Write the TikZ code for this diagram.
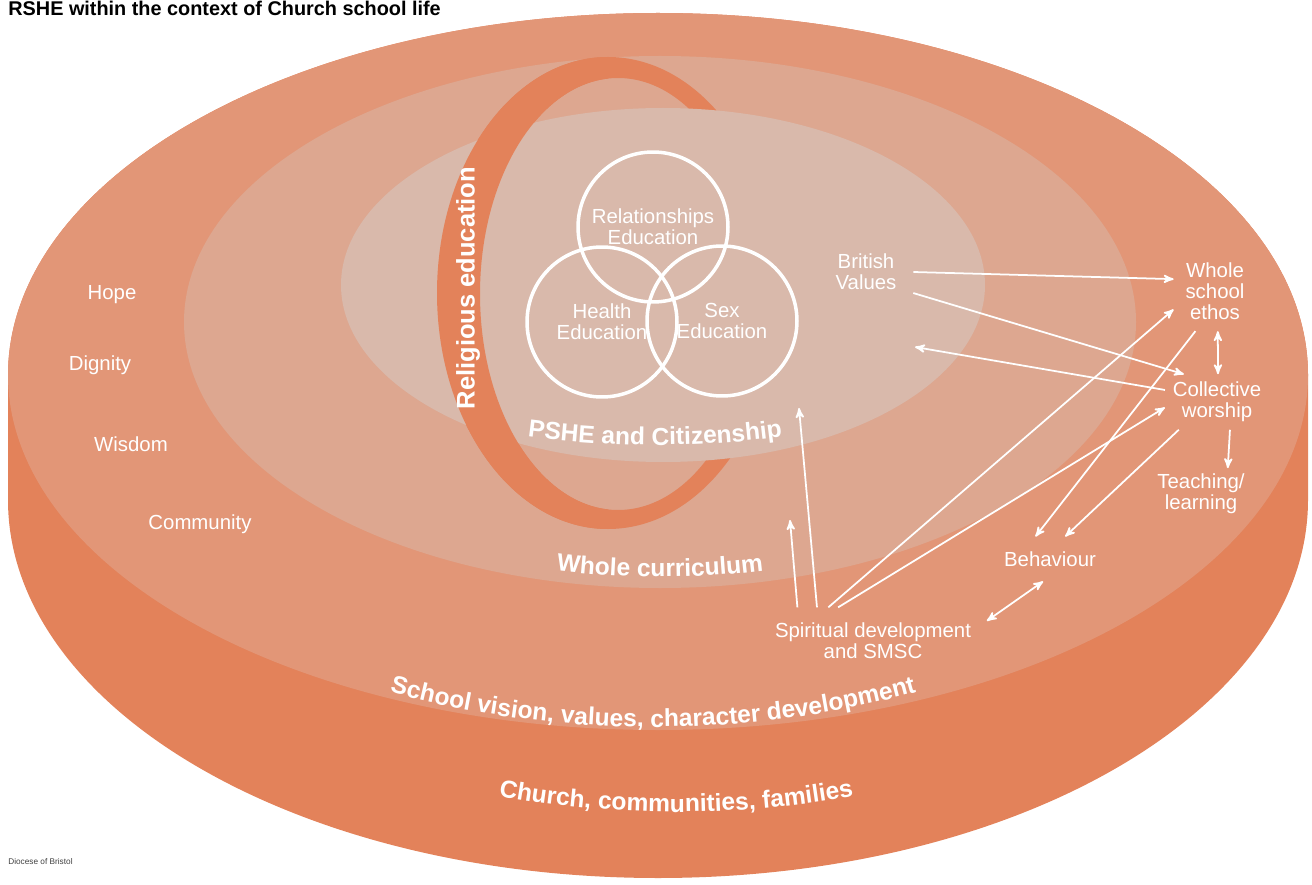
\documentclass[tikz,border=0pt]{standalone}
\usepackage{fontspec}
\setmainfont{Liberation Sans}
\usetikzlibrary{arrows,calc,decorations.text}

\definecolor{sidecol}{RGB}{227,130,90}
\definecolor{topcol}{RGB}{226,150,119}
\definecolor{currcol}{RGB}{221,167,144}
\definecolor{pshecol}{RGB}{217,185,171}

\newcommand{\lblfont}{\fontsize{11.6}{11.8}\selectfont}
\newcommand{\boldfont}{\bfseries\fontsize{14}{14}\selectfont}

\begin{document}
\begin{tikzpicture}[x=0.02cm,y=-0.02cm,>=stealth',
  value node/.style={text=white,font=\lblfont,inner sep=0pt},
  label node/.style={text=white,font=\lblfont,align=center,inner sep=0pt},
  venn node/.style={circle,draw=white,line width=2pt,minimum size=3cm,text=white,font=\lblfont,align=center,inner sep=0pt},
  arr/.style={->,white,line width=1pt},
  curved text/.style={decorate,decoration={text along path,text align=center,text color=white,text={|\boldfont|#1}}}]

  \useasboundingbox (0,0) rectangle (1312,885);

  % the disc: side, top, curriculum, PSHE
  \fill[sidecol] (8,375) -- (8,500) arc[start angle=180,end angle=0,x radius=650,y radius=378]
    -- (1308,375) arc[start angle=0,end angle=-180,x radius=650,y radius=362] -- cycle;
  \fill[topcol] (8,375) arc[start angle=180,end angle=360,x radius=650,y radius=362]
    arc[start angle=0,end angle=180,x radius=650,y radius=355] -- cycle;
  \fill[currcol] (660,322) ellipse[x radius=476,y radius=266];
  \fill[sidecol,even odd rule] (608,293) ellipse[x radius=171,y radius=236] (618,294) ellipse[x radius=138,y radius=216];
  \fill[pshecol] (663,285) ellipse[x radius=322,y radius=177];
  \begin{scope}
    \clip (400,40) rectangle (608,540);
    \fill[sidecol,even odd rule] (608,293) ellipse[x radius=171,y radius=236] (618,294) ellipse[x radius=138,y radius=216];
  \end{scope}

  \node[venn node] (rel) at (653,227) {Relationships\\Education};
  \node[venn node] (health) at (602,322) {Health\\Education};
  \node[venn node] (sex) at (722,321) {Sex\\Education};

  \node[rotate=90,inner sep=0pt,text=white,font=\bfseries\fontsize{14.5}{15}\selectfont] (re) at (468,288) {Religious education};

  % curved titles
  \path[curved text={PSHE and Citizenship}] ($(655,285)+(115:400 and 160)$) arc[start angle=115,end angle=65,x radius=400,y radius=160];
  \path[curved text={Whole curriculum}] ($(660,322)+(110:470 and 255)$) arc[start angle=110,end angle=70,x radius=470,y radius=255];
  \path[curved text={School vision, values, character development}] ($(653,375)+(140:605 and 352)$) arc[start angle=140,end angle=40,x radius=605,y radius=352];
  \path[curved text={Church, communities, families}] ($(676,500)+(130:560 and 312)$) arc[start angle=130,end angle=50,x radius=560,y radius=312];

  \node[value node] (hope) at (112,295) {Hope};
  \node[value node] (dignity) at (100,365) {Dignity};
  \node[value node] (wisdom) at (131,444) {Wisdom};
  \node[value node] (community) at (200,524) {Community};

  \node[label node,outer sep=9.6pt] (bv) at (866,272) {British\\Values};
  \node[label node,outer sep=6.8pt] (wse) at (1215,291) {Whole\\school\\ethos};
  \node[label node,outer sep=4.5pt] (cw) at (1217,402) {Collective\\worship};
  \node[label node,outer sep=3.4pt] (tl) at (1201,494) {Teaching/\\learning};
  \node[label node,outer sep=8.5pt] (beh) at (1050,559) {Behaviour};
  \node[label node,outer sep=9pt] (sd) at (873,641) {Spiritual development\\and SMSC};

  \coordinate (pshept) at (915,347);
  \coordinate (currpt) at (790,520);
  \coordinate (pshetop) at (799,408);

  \path[arr]
    (bv.east) edge (wse.164)
    (bv.-24) edge (cw.140)
    (cw.167) edge (pshept)
    (sd.143) edge (wse.204)
    (sd.136) edge (cw.186)
    (wse.244) edge (beh.123)
    (cw.216) edge (beh.56)
    (wse.-86) edge[<->] (cw.88)
    (cw.-65) edge (tl.44)
    (sd.10) edge[<->] (beh.253)
    (sd.156) edge (currpt)
    (sd.149) edge (pshetop);

  \node[anchor=north west,inner sep=0pt,font=\bfseries\fontsize{11.3}{12}\selectfont] (title) at (8,1) {RSHE within the context of Church school life};
  \node[anchor=west,inner sep=0pt,text=black!75,font=\fontsize{4.7}{5}\selectfont] (credit) at (8,862) {Diocese of Bristol};

\end{tikzpicture}
\end{document}
